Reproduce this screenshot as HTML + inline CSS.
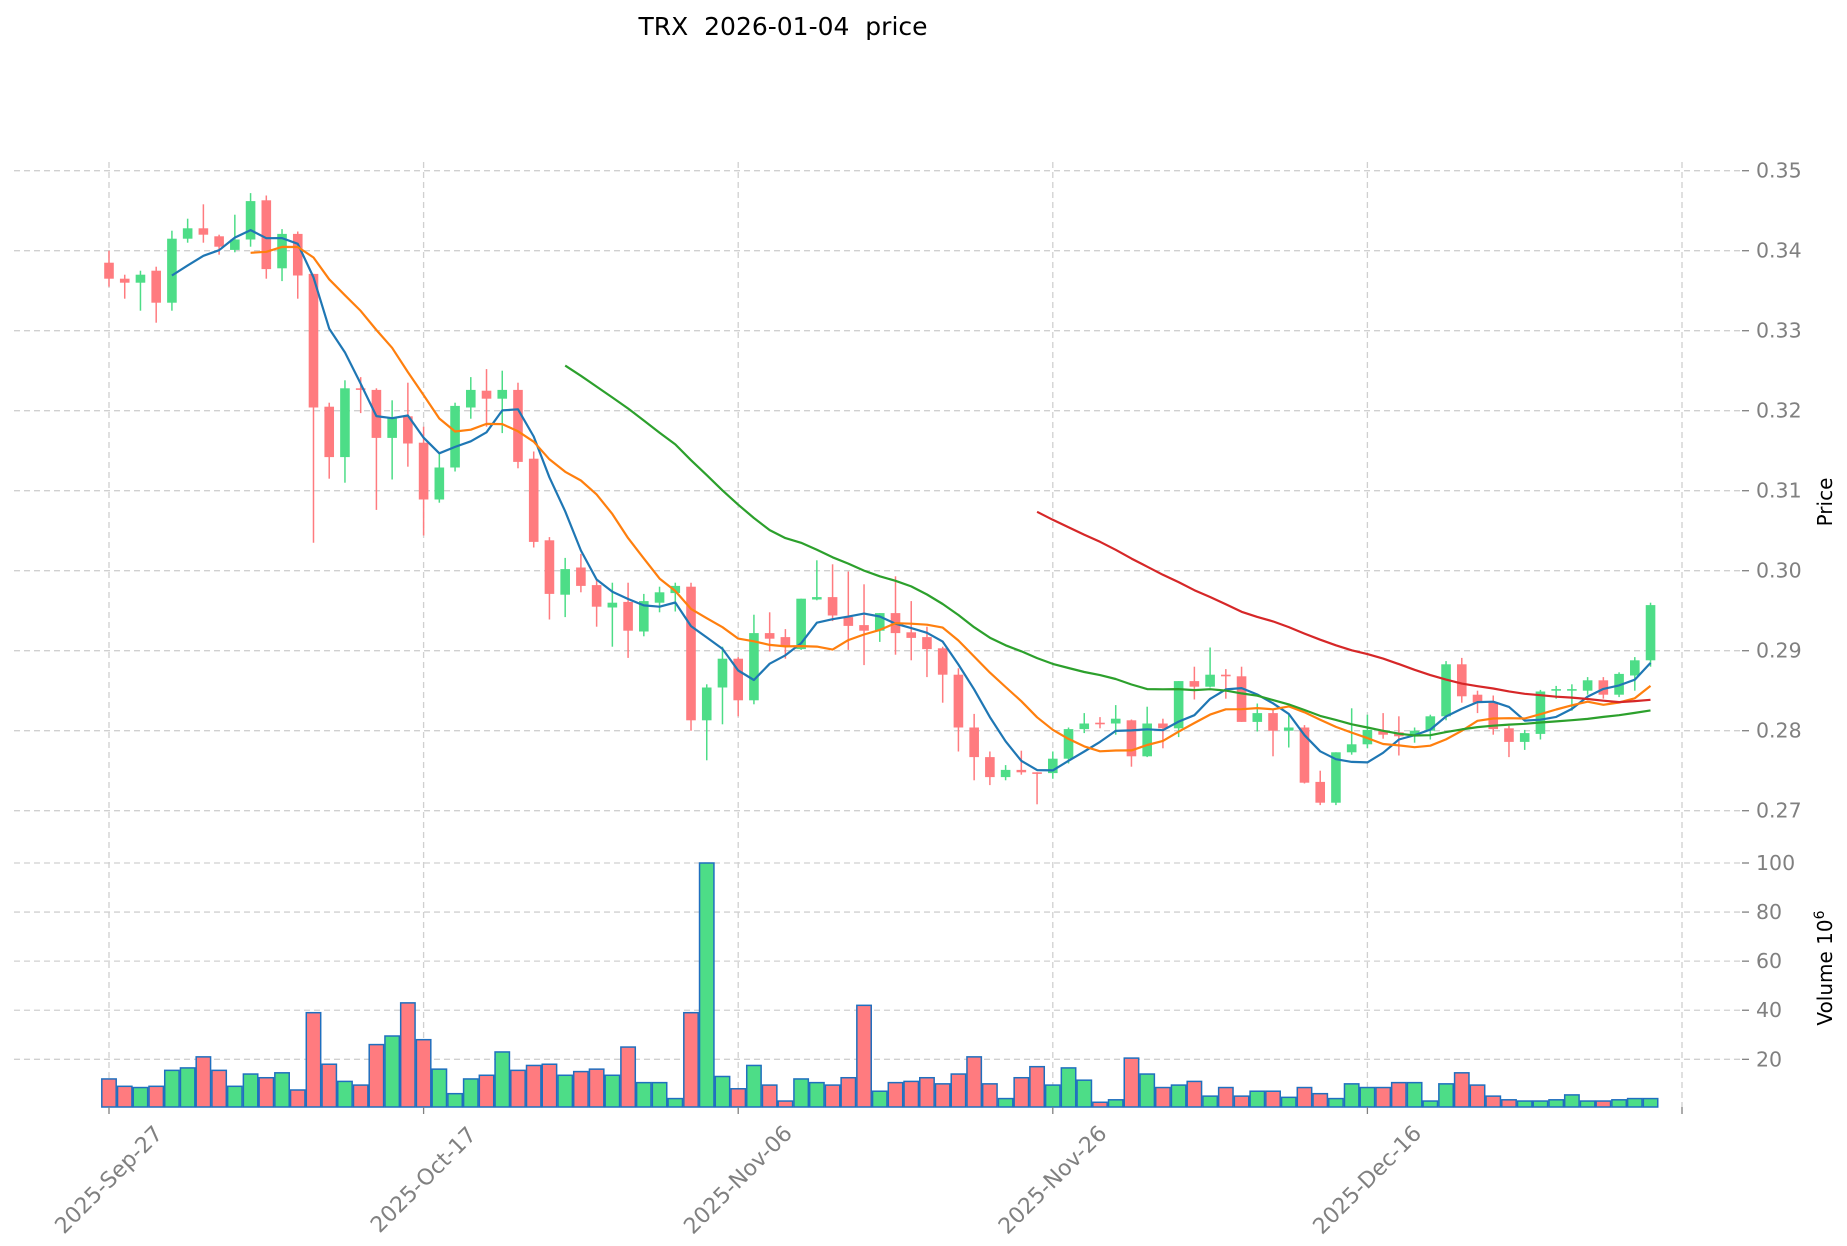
<!DOCTYPE html>
<html><head><meta charset="utf-8"><style>
html,body{margin:0;padding:0;background:#fff;}
svg{display:block;font-family:"DejaVu Sans","Liberation Sans",sans-serif;}
</style></head><body>
<svg id="s" width="1847" height="1246" viewBox="0 0 1847 1246" xmlns="http://www.w3.org/2000/svg">
<rect width="1847" height="1246" fill="#fff"/>
<text x="783" y="35" font-size="25" text-anchor="middle" fill="#000" style="white-space:pre">TRX  2026-01-04  price</text>
<g id="grid"></g><g id="vol"></g><g id="cand"></g><g id="ma"></g><g id="axes"></g>
</svg>
<script>
var D=[
[.3385,.340,.3355,.3365,12],[.3365,.337,.334,.336,9],[.336,.3375,.3325,.337,8.5],[.3375,.338,.331,.3335,9],
[.3335,.3425,.3325,.3415,15.5],[.3415,.344,.341,.3428,16.5],[.3428,.3458,.341,.342,21],[.3418,.342,.3395,.3405,15.5],
[.3401,.3445,.3398,.3414,9],[.3414,.3472,.3405,.3462,14],[.3463,.3469,.3365,.3377,12.5],[.3378,.3427,.3362,.3421,14.5],
[.3421,.3424,.334,.3369,7.5],[.3371,.3371,.3035,.3204,39],[.3205,.321,.3115,.3142,18],[.3142,.3238,.311,.3228,11],
[.3228,.3242,.3197,.3226,9.5],[.3226,.3228,.3076,.3166,26],[.3166,.3213,.3114,.3191,29.5],[.3193,.3235,.313,.3159,43],
[.316,.318,.3044,.3089,28],[.3089,.3147,.3085,.3129,16],[.3129,.321,.3124,.3206,6],[.3204,.3242,.319,.3226,12],
[.3225,.3252,.318,.3215,13.5],[.3215,.325,.3172,.3226,23],[.3226,.3235,.3128,.3136,15.5],[.314,.3149,.3029,.3036,17.5],
[.3038,.3042,.2939,.2971,18],[.297,.3016,.2942,.3002,13.5],[.3004,.3021,.2973,.2981,15],[.2982,.2989,.293,.2955,16],
[.2954,.2985,.2905,.296,13.5],[.2961,.2985,.2891,.2925,25],[.2924,.2971,.2918,.2962,10.5],[.296,.298,.2948,.2973,10.5],
[.2972,.2985,.2949,.2981,4],[.298,.2985,.280,.2813,39],[.2813,.2858,.2763,.2854,100],[.2854,.2905,.2808,.289,13],
[.289,.2892,.2818,.2838,8],[.2838,.2945,.2833,.2922,17.5],[.2922,.2948,.2899,.2915,9.5],[.2917,.2927,.289,.2906,3],
[.2902,.2965,.2901,.2965,12],[.2964,.3013,.2963,.2967,10.5],[.2967,.3008,.2937,.2944,9.5],[.2942,.2999,.2901,.2931,12.5],
[.2932,.2983,.2882,.2925,42],[.2925,.2947,.2911,.2947,7],[.2947,.2993,.2895,.2922,10.5],[.2923,.2962,.2888,.2916,11],
[.2917,.293,.2867,.2902,12.5],[.2903,.2905,.2835,.287,10],[.287,.2878,.2774,.2804,14],[.2804,.2821,.2738,.2767,21],
[.2767,.2774,.2732,.2742,10],[.2742,.2757,.2738,.2751,4],[.2751,.2775,.2745,.2748,12.5],[.2748,.2748,.2708,.2746,17],
[.2747,.2774,.274,.2765,9.5],[.2765,.2804,.2759,.2802,16.5],[.2802,.2822,.2797,.2809,11.5],[.2810,.2817,.2803,.2808,2.5],
[.2809,.2832,.2795,.2815,3.5],[.2813,.2814,.2755,.2768,20.5],[.2768,.283,.2767,.2809,14],[.2809,.2815,.2778,.2803,8.5],
[.2803,.2862,.2792,.2862,9.5],[.2862,.288,.2839,.2855,11],[.2855,.2904,.2854,.287,5],[.287,.2877,.284,.2868,8.5],
[.2868,.288,.2811,.2811,5],[.2811,.2834,.2799,.2822,7],[.2822,.2826,.2768,.28,7],[.28,.282,.2779,.2804,4.5],
[.2804,.2807,.2734,.2735,8.5],[.2736,.275,.2707,.271,6],[.271,.2773,.2707,.2773,4],[.2773,.2828,.277,.2783,10],
[.2783,.282,.2778,.2801,8.5],[.2800,.2822,.279,.2795,8.5],[.2798,.2818,.2769,.2793,10.5],[.2794,.2804,.2785,.28,10.5],
[.28,.282,.2789,.2818,3],[.2818,.2887,.2813,.2883,10],[.2883,.2891,.2835,.2843,14.5],[.2845,.285,.2822,.2835,9.5],
[.2835,.2844,.2795,.2802,5],[.2803,.2806,.2767,.2786,3.5],[.2786,.2801,.2776,.2797,3],[.2796,.2851,.2789,.2849,3],
[.285,.2856,.284,.2852,3.5],[.2850,.2858,.2825,.2852,5.5],[.285,.2867,.2845,.2863,3],[.2863,.2867,.284,.2845,3],
[.2845,.2873,.2842,.2871,3.5],[.2869,.2892,.285,.2888,4],[.2888,.296,.288,.2957,4]];
var NS="http://www.w3.org/2000/svg";
function el(p,t,a){var e=document.createElementNS(NS,t);for(var k in a)e.setAttribute(k,a[k]);p.appendChild(e);return e;}
function X(i){return 109+i*15.73;}
function PY(p){return 170.7+(0.35-p)*8000;}
function VY(v){return 1108.4-v*2.454;}
var G=document.getElementById('grid'),V=document.getElementById('vol'),C=document.getElementById('cand'),M=document.getElementById('ma'),A=document.getElementById('axes');
var gs={stroke:'#d0d0d0','stroke-width':1.3,'stroke-dasharray':'6,4',fill:'none'};
var FS=20.5;
for(var k=0;k<=8;k++){var p=0.27+k*0.01,y=PY(p);var a=Object.assign({x1:14,x2:1742,y1:y,y2:y},gs);el(G,'line',a);
 el(A,'line',{x1:1742,x2:1749,y1:y,y2:y,stroke:'#808080','stroke-width':1.3});
 var t=el(A,'text',{x:1756,y:y+7,'font-size':FS,fill:'#808080'});t.textContent=p.toFixed(2);}
for(var v=20;v<=100;v+=20){var y=VY(v);el(G,'line',Object.assign({x1:14,x2:1742,y1:y,y2:y},gs));
 el(A,'line',{x1:1742,x2:1749,y1:y,y2:y,stroke:'#808080','stroke-width':1.3});
 var t=el(A,'text',{x:1756,y:y+7,'font-size':FS,fill:'#808080'});t.textContent=v;}
var dl=['2025-Sep-27','2025-Oct-17','2025-Nov-06','2025-Nov-26','2025-Dec-16',''];
for(var j=0;j<6;j++){var x=X(j*20);el(G,'line',Object.assign({x1:x,x2:x,y1:162,y2:1107},gs));
 el(A,'line',{x1:x,x2:x,y1:1107,y2:1114,stroke:'#808080','stroke-width':1.3});
 if(dl[j]){var cy=1180;var t=el(A,'text',{x:x,y:cy+7,'font-size':22,fill:'#808080','text-anchor':'middle',transform:'rotate(-45 '+x+' '+cy+')'});t.textContent=dl[j];}}
var t=el(A,'text',{x:1832,y:502,'font-size':20,fill:'#000','text-anchor':'middle',transform:'rotate(-90 1832 502)'});t.textContent='Price';
var t=el(A,'text',{x:1832,y:968,'font-size':20,fill:'#000','text-anchor':'middle',transform:'rotate(-90 1832 968)'});
t.innerHTML='Volume  10<tspan dy="-8" font-size="14">6</tspan>';
var GR='#4ddd87',RD='#ff7b7f';
for(var i=0;i<D.length;i++){var d=D[i],up=d[3]>=d[0],c=up?GR:RD,x=X(i);
 var vy=VY(d[4]);el(V,'rect',{x:x-7.2,y:vy,width:14.4,height:1107-vy,fill:c,stroke:'#1f6fbf','stroke-width':1.5});
 el(C,'line',{x1:x,x2:x,y1:PY(d[1]),y2:PY(d[2]),stroke:c,'stroke-width':1.5});
 var y1=PY(Math.max(d[0],d[3])),y2=PY(Math.min(d[0],d[3]));if(y2-y1<1.5){y2=y1+1.5;}
 el(C,'rect',{x:x-4.8,y:y1,width:9.6,height:y2-y1,fill:c});}
function ma(n,col){var pts=[];for(var i=n-1;i<D.length;i++){var s=0;for(var k=i-n+1;k<=i;k++)s+=D[k][3];pts.push(X(i).toFixed(1)+','+PY(s/n).toFixed(1));}
 el(M,'polyline',{points:pts.join(' '),fill:'none',stroke:col,'stroke-width':2.2,'stroke-linejoin':'round'});}
ma(5,'#1f77b4');ma(10,'#ff7f0e');ma(30,'#2ca02c');ma(60,'#d62728');
</script>
</body></html>
